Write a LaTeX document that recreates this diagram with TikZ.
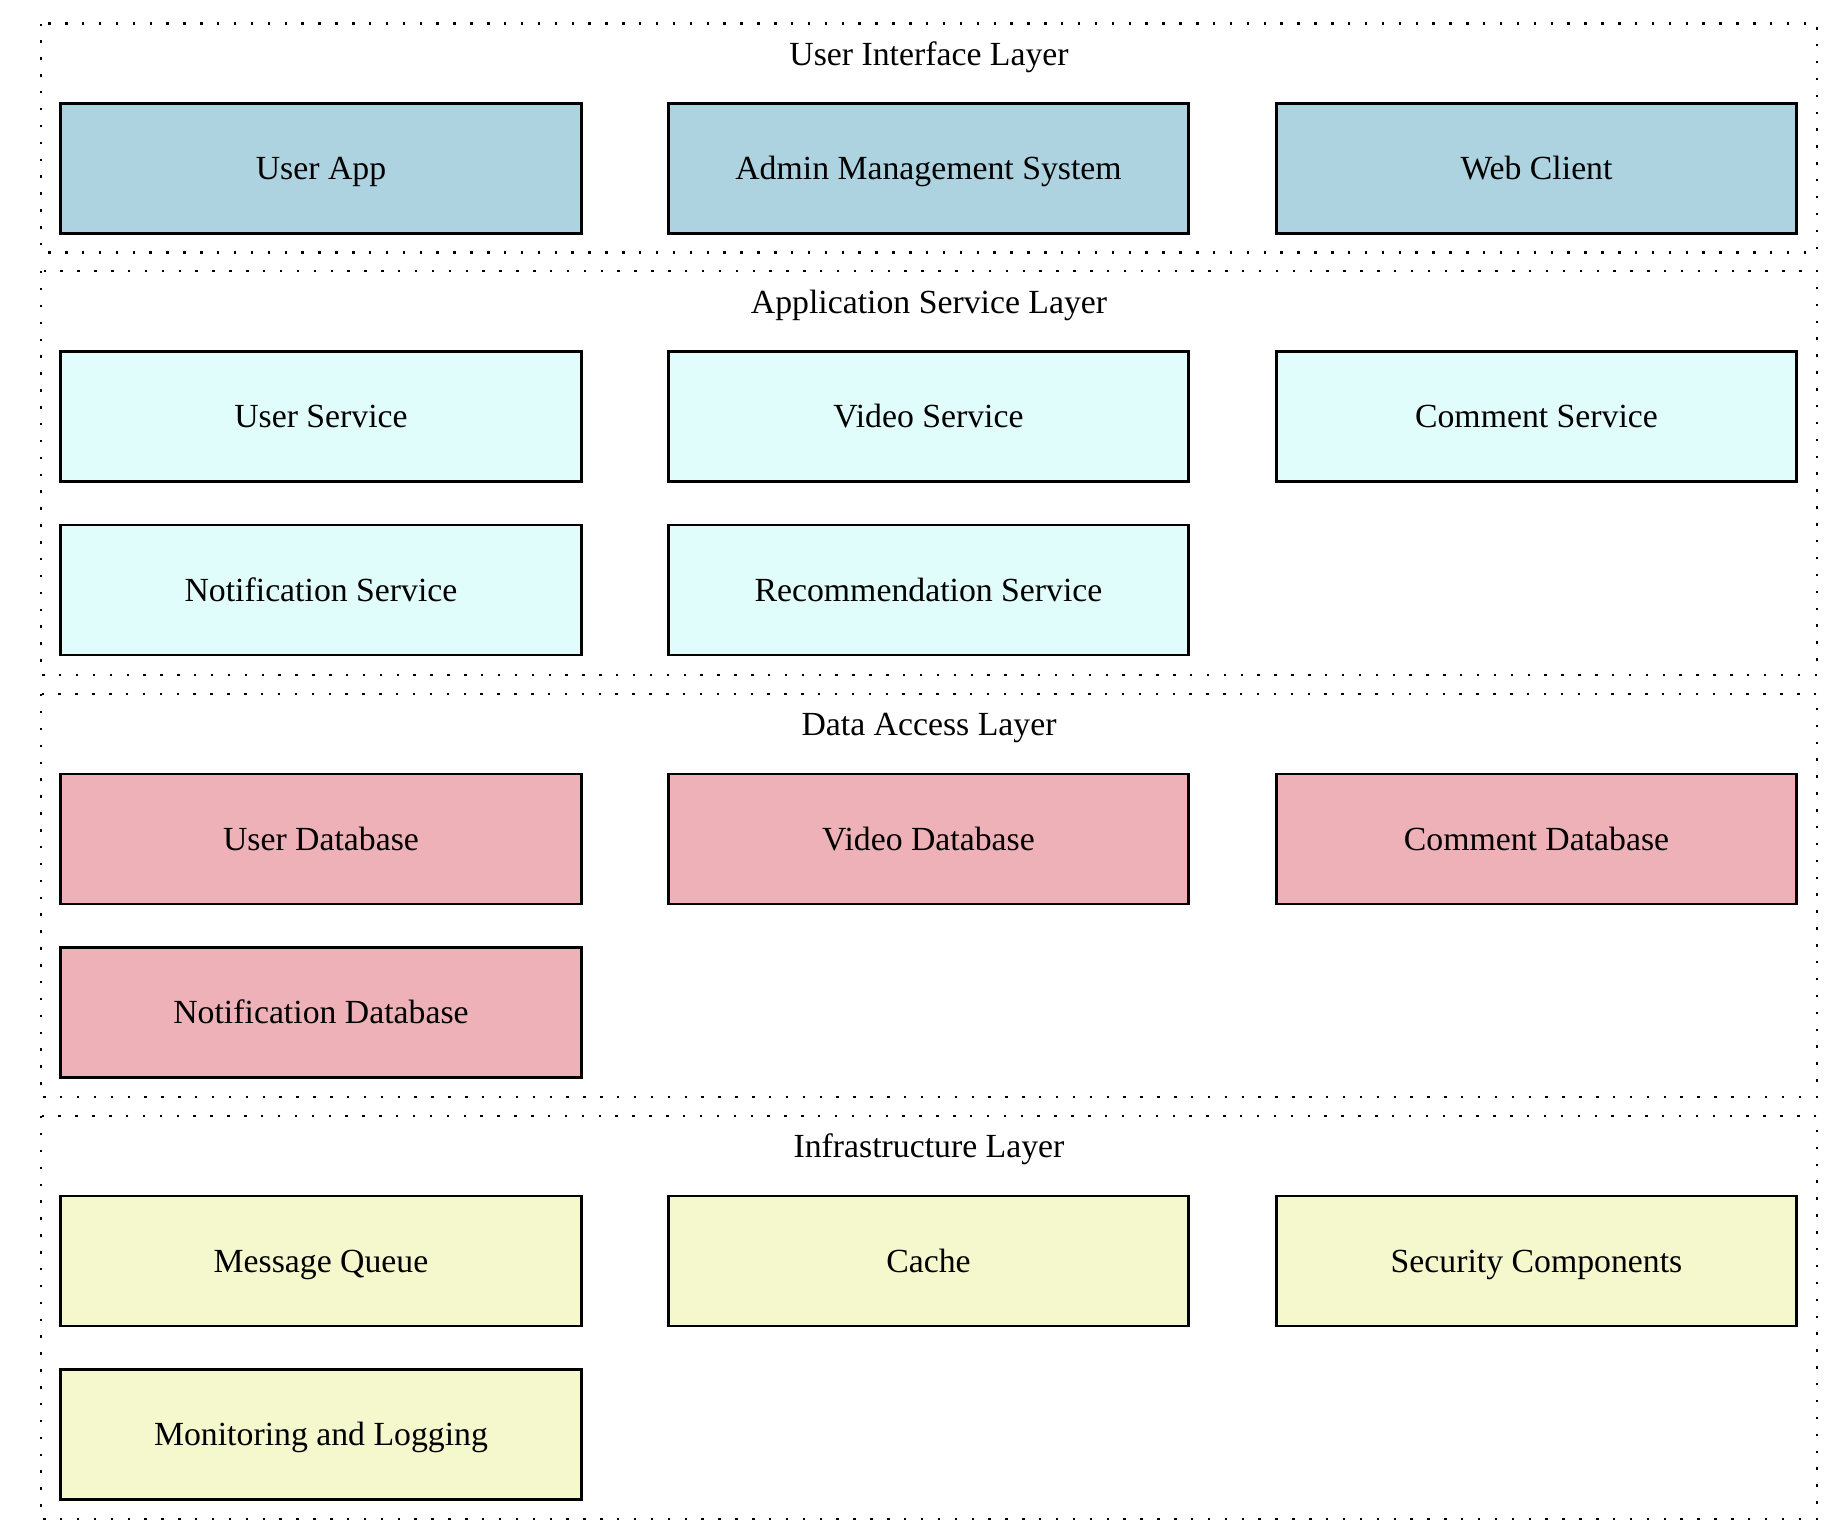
\documentclass[tikz,border=0pt]{standalone}
\usepackage{fontspec}
\setmainfont{Liberation Serif}
\usepackage{tikz}
\definecolor{uiblue}{RGB}{173,210,224}
\definecolor{svccyan}{RGB}{224,252,251}
\definecolor{dbpink}{RGB}{238,177,183}
\definecolor{infrayellow}{RGB}{245,248,205}

\begin{document}
\begin{tikzpicture}[x=0.01cm,y=-0.01cm,
  layer/.style={line width=0.7pt,dash pattern=on 0.7pt off 4.1pt},
  comp/.style={draw,line width=0.8pt,minimum width=5.2cm,minimum height=1.3cm,
    text height=1.6ex,text depth=0.2ex,font=\fontsize{9.6}{11}\selectfont},
  title/.style={text height=1.6ex,text depth=0.2ex,font=\fontsize{9.6}{11}\selectfont}]
\useasboundingbox (0,0) rectangle (1842,1536);

% layers
\draw[layer] (41,23.5) rectangle (1817,252.6);
\draw[layer] (41,271) rectangle (1817,675);
\draw[layer] (41,694) rectangle (1817,1097);
\draw[layer] (41,1116) rectangle (1817,1519);
\node[title] (uititle) at (929,54) {User Interface Layer};
\node[title] (apptitle) at (929,302) {Application Service Layer};
\node[title] (datatitle) at (929,724) {Data Access Layer};
\node[title] (infratitle) at (929,1146) {Infrastructure Layer};

% user interface
\node[comp,fill=uiblue] (userapp) at (321,168.5) {User App};
\node[comp,fill=uiblue] (admin) at (928.5,168.5) {Admin Management System};
\node[comp,fill=uiblue] (webclient) at (1536.5,168.5) {Web Client};

% services
\node[comp,fill=svccyan] (usersvc) at (321,416.5) {User Service};
\node[comp,fill=svccyan] (videosvc) at (928.5,416.5) {Video Service};
\node[comp,fill=svccyan] (commentsvc) at (1536.5,416.5) {Comment Service};
\node[comp,fill=svccyan] (notifsvc) at (321,590) {Notification Service};
\node[comp,fill=svccyan] (recsvc) at (928.5,590) {Recommendation Service};

% data access
\node[comp,fill=dbpink] (userdb) at (321,839) {User Database};
\node[comp,fill=dbpink] (videodb) at (928.5,839) {Video Database};
\node[comp,fill=dbpink] (commentdb) at (1536.5,839) {Comment Database};
\node[comp,fill=dbpink] (notifdb) at (321,1012.5) {Notification Database};

% infrastructure
\node[comp,fill=infrayellow] (mq) at (321,1261) {Message Queue};
\node[comp,fill=infrayellow] (cache) at (928.5,1261) {Cache};
\node[comp,fill=infrayellow] (security) at (1536.5,1261) {Security Components};
\node[comp,fill=infrayellow] (monitor) at (321,1434.5) {Monitoring and Logging};
\end{tikzpicture}
\end{document}
